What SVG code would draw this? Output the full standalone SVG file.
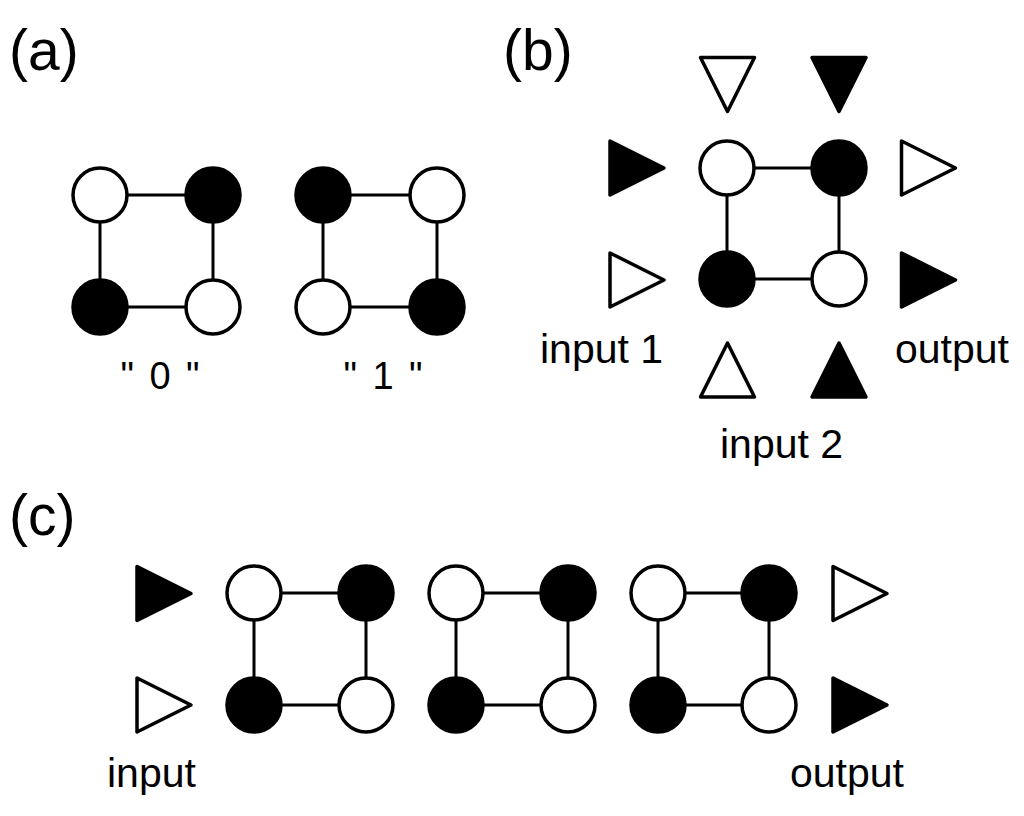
<svg xmlns="http://www.w3.org/2000/svg" xmlns:xlink="http://www.w3.org/1999/xlink" width="1024" height="816" viewBox="0 0 1024 816">
<style>
.w{fill:#fff;stroke:#000;stroke-width:3.5}
.b{fill:#000;stroke:#000;stroke-width:3.5}
.ln{stroke:#000;stroke-width:3;fill:none}
.tri{stroke:#000;stroke-width:3.5;stroke-linejoin:round}
.tw{fill:#fff}
.tb{fill:#000}
.lab{font-family:"Liberation Sans",Arial,sans-serif;font-size:57px;fill:#000}
.txt{font-family:"Liberation Sans",Arial,sans-serif;font-size:41px;fill:#000}
.q{font-family:"Liberation Sans",Arial,sans-serif;font-size:38px;fill:#000;word-spacing:5px}
</style>
<defs>
<path id="tr" class="tri" d="M-27,-27 L27,0 L-27,27 Z"/>
</defs>
<rect width="1024" height="816" fill="#fff"/>
<text class="lab" x="9" y="70">(a)</text>
<text class="lab" x="503" y="70">(b)</text>
<text class="lab" x="9" y="535">(c)</text>
<g id="connectors">
<path class="ln" d="M100,195 H213 V307 H100 Z"/>
<path class="ln" d="M323,195 H437 V307 H323 Z"/>
<path class="ln" d="M727,168 H839 V279 H727 Z"/>
<path class="ln" d="M254,593 H366 V705 H254 Z"/>
<path class="ln" d="M456,593 H568 V705 H456 Z"/>
<path class="ln" d="M658,593 H769 V705 H658 Z"/>
</g>
<g id="a0">
<circle class="w" cx="100" cy="195" r="27"/><circle class="b" cx="213" cy="195" r="27"/>
<circle class="b" cx="100" cy="307" r="27"/><circle class="w" cx="213" cy="307" r="27"/>
<text class="q" x="160" y="389" text-anchor="middle">" 0 "</text>
</g>
<g id="a1">
<circle class="b" cx="323" cy="195" r="27"/><circle class="w" cx="437" cy="195" r="27"/>
<circle class="w" cx="323" cy="307" r="27"/><circle class="b" cx="437" cy="307" r="27"/>
<text class="q" x="383" y="389" text-anchor="middle">" 1 "</text>
</g>
<g id="b-gate">
<circle class="w" cx="727" cy="168" r="27"/><circle class="b" cx="839" cy="168" r="27"/>
<circle class="b" cx="727" cy="279" r="27"/><circle class="w" cx="839" cy="279" r="27"/>
</g>
<g id="b-input1">
<use xlink:href="#tr" class="tb" x="637" y="168"/>
<use xlink:href="#tr" class="tw" x="637" y="280"/>
<text class="txt" x="540" y="363">input 1</text>
</g>
<g id="b-input2">
<use xlink:href="#tr" class="tw" transform="translate(727.5,370) rotate(-90)"/>
<use xlink:href="#tr" class="tb" transform="translate(839,370) rotate(-90)"/>
<text class="txt" x="720" y="458">input 2</text>
</g>
<g id="b-top">
<use xlink:href="#tr" class="tw" transform="translate(727.5,84.5) rotate(90)"/>
<use xlink:href="#tr" class="tb" transform="translate(839,84.5) rotate(90)"/>
</g>
<g id="b-output">
<use xlink:href="#tr" class="tw" x="928.5" y="168"/>
<use xlink:href="#tr" class="tb" x="928.5" y="280"/>
<text class="txt" x="895" y="363">output</text>
</g>
<g id="c-input">
<use xlink:href="#tr" class="tb" x="164" y="593.5"/>
<use xlink:href="#tr" class="tw" x="164" y="705"/>
<text class="txt" x="107" y="787">input</text>
</g>
<g id="c-gate1">
<circle class="w" cx="254" cy="593" r="27"/><circle class="b" cx="366" cy="593" r="27"/>
<circle class="b" cx="254" cy="705" r="27"/><circle class="w" cx="366" cy="705" r="27"/>
</g>
<g id="c-gate2">
<circle class="w" cx="456" cy="593" r="27"/><circle class="b" cx="568" cy="593" r="27"/>
<circle class="b" cx="456" cy="705" r="27"/><circle class="w" cx="568" cy="705" r="27"/>
</g>
<g id="c-gate3">
<circle class="w" cx="658" cy="593" r="27"/><circle class="b" cx="769" cy="593" r="27"/>
<circle class="b" cx="658" cy="705" r="27"/><circle class="w" cx="769" cy="705" r="27"/>
</g>
<g id="c-output">
<use xlink:href="#tr" class="tw" x="860" y="593.5"/>
<use xlink:href="#tr" class="tb" x="860" y="705"/>
<text class="txt" x="790" y="787">output</text>
</g>
</svg>
